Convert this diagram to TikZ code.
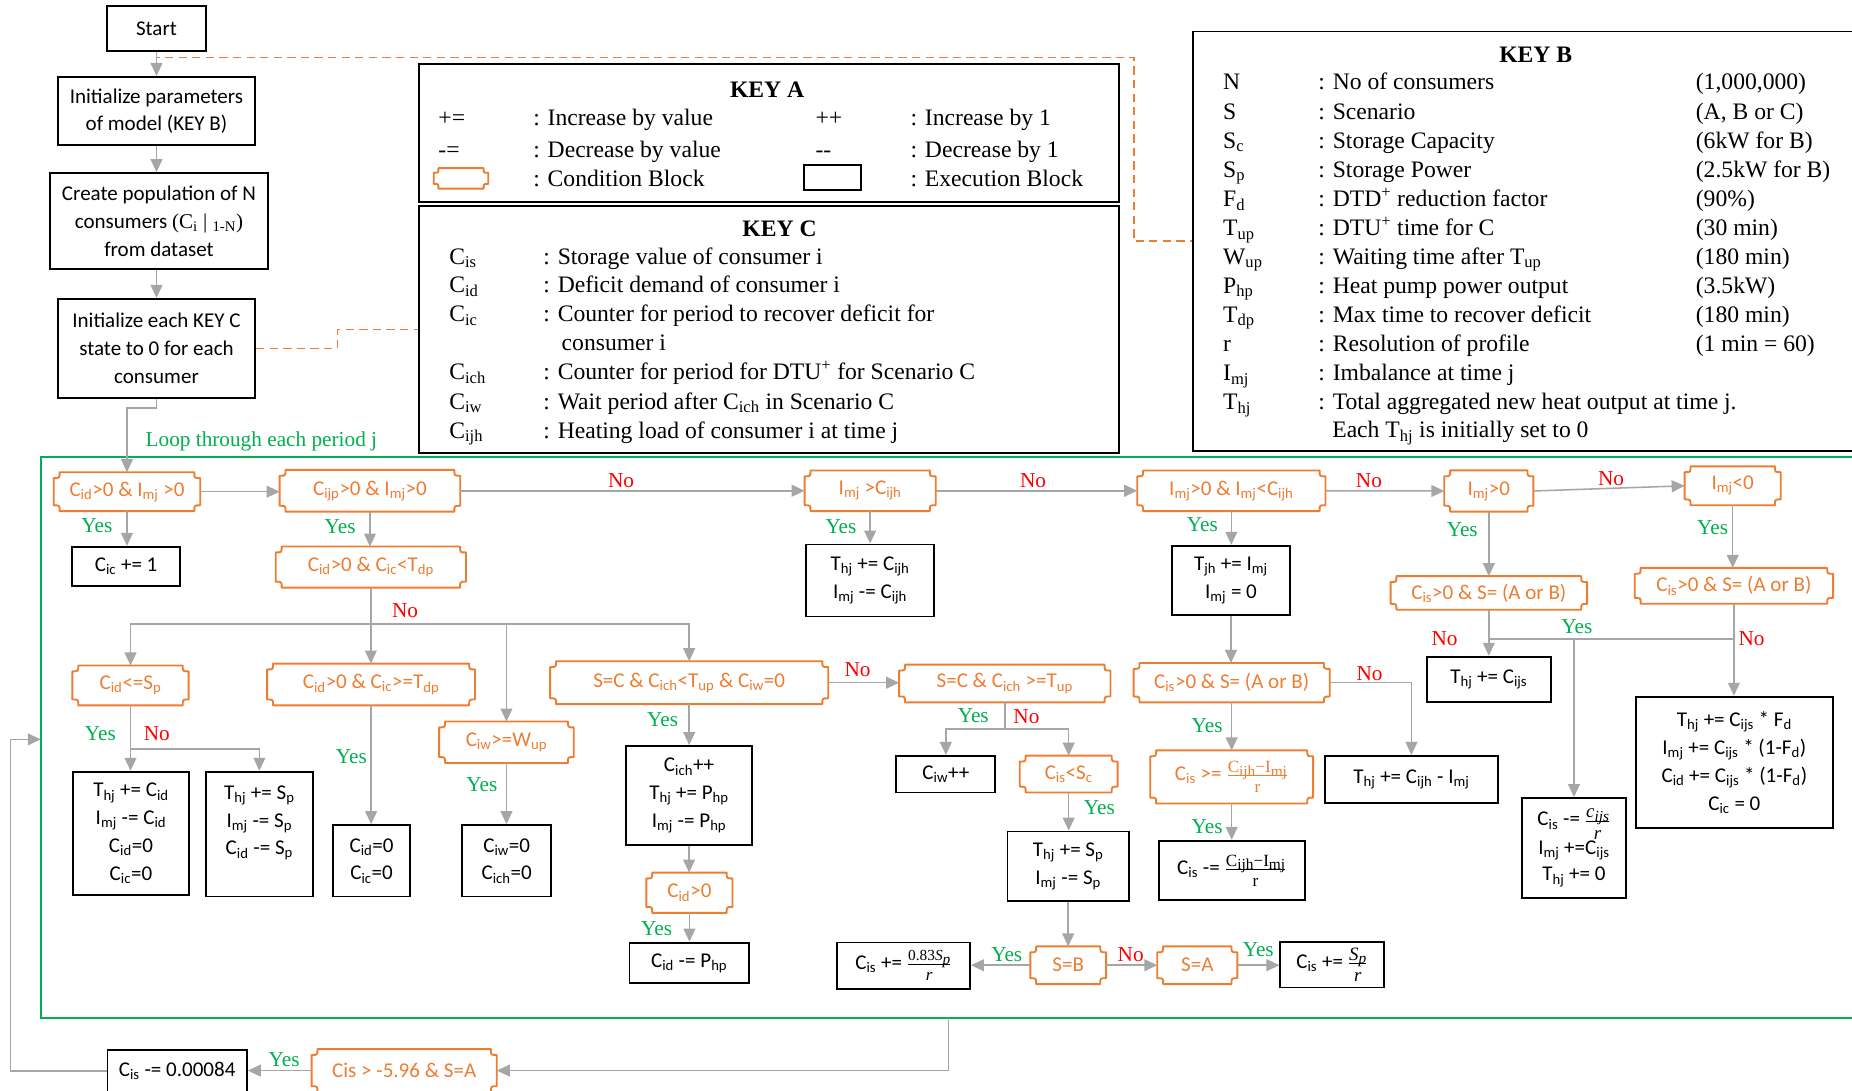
\documentclass[tikz,border=0pt]{standalone}
\usepackage{fontspec}
\setmainfont{Liberation Serif}
\newfontfamily\calib{Carlito}
\usetikzlibrary{arrows.meta}
\definecolor{orng}{RGB}{237,125,49}
\definecolor{gry}{RGB}{166,166,166}
\definecolor{grn}{RGB}{0,176,80}
\definecolor{rd}{RGB}{255,0,0}
\newcommand\sbs[1]{\textsubscript{#1}}
\newcommand\lsb[1]{\raisebox{-3pt}[0pt][1pt]{\fontsize{13}{14}\selectfont #1}}
\newcommand\isb[1]{\raisebox{-3pt}[0pt][1pt]{\fontsize{13}{14}\selectfont\itshape #1}}
\newcommand\rfrac[3][14.5]{$\frac{\mbox{\rmfamily\fontsize{#1}{#1}\selectfont #2}}{\mbox{\rmfamily\fontsize{#1}{#1}\selectfont\rule{0pt}{0.95em}#3}}$}
\newcommand\plq[2]{\draw[condline] ([xshift=#2]#1.north west) -- ([xshift=-#2]#1.north east) .. controls ([xshift=-#2,yshift=-#2]#1.north east) .. ([yshift=-#2]#1.north east) -- ([yshift=#2]#1.south east) .. controls ([xshift=-#2,yshift=#2]#1.south east) .. ([xshift=-#2]#1.south east) -- ([xshift=#2]#1.south west) .. controls ([xshift=#2,yshift=#2]#1.south west) .. ([yshift=#2]#1.south west) -- ([yshift=-#2]#1.north west) .. controls ([xshift=#2,yshift=-#2]#1.north west) .. ([xshift=#2]#1.north west) -- cycle;}
\tikzset{
 nd/.style={inner sep=0pt, align=center, font=\calib\fontsize{17.8}{23.5}\selectfont},
 cond/.style={nd, text=orng},
 condline/.style={draw=orng, line width=1.6pt, line join=round},
 exec/.style={nd, draw=black, line width=1.6pt},
 sz/.style 2 args={minimum width=#1pt, minimum height=#2pt},
 arr/.style={draw=gry, line width=1.3pt, -{Triangle[length=11pt,width=10pt]}},
 ln/.style={draw=gry, line width=1.3pt},
 yes/.style={text=grn, inner sep=0pt, font=\fontsize{18}{20}\selectfont},
 no/.style={text=rd, inner sep=0pt, font=\fontsize{18}{20}\selectfont},
 keybox/.style={draw=black, line width=1.5pt, inner sep=0pt},
 kt/.style={inner sep=0pt, anchor=west, text height=14pt, text depth=3pt, font=\fontsize{20}{24}\selectfont},
 kh/.style={inner sep=0pt, font=\bfseries\fontsize{20}{24}\selectfont},
 dsh/.style={draw=orng, line width=1.3pt, dash pattern=on 7pt off 4.5pt},
}
\begin{document}
\begin{tikzpicture}[x=1pt,y=-1pt]
\fill[white] (0,0) rectangle (1568,923);
\useasboundingbox (0,0) rectangle (1568,923);

% ---------- keys ----------
\node[keybox, minimum width=592.5pt, minimum height=116.4pt, anchor=north west] (keya) at (354.2,53.6) {};
\node[keybox, minimum width=592.5pt, minimum height=209.1pt, anchor=north west] (keyc) at (354.2,173.6) {};
\node[keybox, minimum width=570pt, minimum height=355pt, anchor=north west] (keyb) at (1009,26) {};

\node[kh] (kat) at (649.5,75.6) {KEY A};
\node[kt] (ka1) at (371,101) {+=};
\node[kt] (ka2) at (451.3,101) {: Increase by value};
\node[kt] (ka3) at (690.3,101) {++};
\node[kt] (ka4) at (770.7,101) {: Increase by 1};
\node[kt] (ka5) at (371,127.8) {-=};
\node[kt] (ka6) at (451.3,127.8) {: Decrease by value};
\node[kt] (ka7) at (690.3,127.8) {-{}-};
\node[kt] (ka8) at (770.7,127.8) {: Decrease by 1};
\node[cond, sz={45.8}{17}] (legc) at (390.3,151) {};
\node[exec, sz={48.2}{21.2}] (lege) at (704.7,150.3) {};
\node[kt] (ka9) at (451.3,152.4) {: Condition Block};
\node[kt] (ka10) at (770.7,152.4) {: Execution Block};

\node[kh] (kct) at (660,193.3) {KEY C};
\foreach \yy/\sy/\de [count=\k] in {218.2/{C\sbs{is}}/{: Storage value of consumer i},
 242.1/{C\sbs{id}}/{: Deficit demand of consumer i},
 266.7/{C\sbs{ic}}/{: Counter for period to recover deficit for},
 316.1/{C\sbs{ich}}/{: Counter for period for DTU\textsuperscript{+} for Scenario C},
 340.9/{C\sbs{iw}}/{: Wait period after C\sbs{ich} in Scenario C},
 365.5/{C\sbs{ijh}}/{: Heating load of consumer i at time j}}
{
 \node[kt] (kcs\k) at (380.2,\yy) {\sy};
 \node[kt] (kcd\k) at (459.8,\yy) {\de};
}
\node[kt] (kcx) at (475.4,291) {consumer i};

\node[kh] (kbt) at (1300.2,46) {KEY B};
\foreach \yy/\sy/\de/\va [count=\k] in {70.5/N/{: No of consumers}/{(1,000,000)},
 95.4/S/{: Scenario}/{(A, B or C)},
 120/{S\sbs{c}}/{: Storage Capacity}/{(6kW for B)},
 144.5/{S\sbs{p}}/{: Storage Power}/{(2.5kW for B)},
 169.3/{F\sbs{d}}/{: DTD\textsuperscript{+} reduction factor}/{(90\%)},
 193.9/{T\sbs{up}}/{: DTU\textsuperscript{+} time for C}/{(30 min)},
 218.2/{W\sbs{up}}/{: Waiting time after T\sbs{up}}/{(180 min)},
 242.7/{P\sbs{hp}}/{: Heat pump power output}/{(3.5kW)},
 267.3/{T\sbs{dp}}/{: Max time to recover deficit}/{(180 min)},
 292.1/r/{: Resolution of profile}/{(1 min = 60)}}
{
 \node[kt] (kbs\k) at (1035.4,\yy) {\sy};
 \node[kt] (kbd\k) at (1116,\yy) {\de};
 \node[kt] (kbv\k) at (1435.6,\yy) {\va};
}
\node[kt] (kbs11) at (1035.4,316.7) {I\sbs{mj}};
\node[kt] (kbd11) at (1116,316.7) {: Imbalance at time j};
\node[kt] (kbs12) at (1035.4,341.5) {T\sbs{hj}};
\node[kt] (kbd12) at (1116,341.5) {: Total aggregated new heat output at time j.};
\node[kt] (kbd13) at (1127.8,364.9) {Each T\sbs{hj} is initially set to 0};

% ---------- top-left ----------
\node[exec, sz={83.8}{38}] (start) at (132.5,24.2) {Start};
\node[exec, sz={167}{57.8}, font=\calib\fontsize{17.8}{22.6}\selectfont] (init) at (132.5,94) {Initialize parameters\\of model (KEY B)};
\node[exec, sz={184.7}{81.3}] (pop) at (134.6,187.2) {Create population of N\\consumers {\rmfamily(C\sbs{i} | \sbs{1-N})}\\from dataset};
\node[exec, sz={167}{84}] (initc) at (132.5,295) {Initialize each KEY C\\state to 0 for each\\consumer};

\draw[dsh] (init.north) |- (960,48.5) |- (keyb.west);
\draw[dsh] (initc.east) -- ++(69,0) |- (keyc.west);
\draw[arr] (start.south) -- (init.north);
\draw[arr] (init.south) -- (init.south |- pop.north);
\draw[arr] (initc.north |- pop.south) -- (initc.north);

% ---------- green loop box ----------
\draw[grn, line width=1.6pt] (34.5,387) rectangle (1580,862.2);
\node[text=grn, inner sep=0pt, font=\fontsize{18}{20}\selectfont] (loop) at (221.3,374) {Loop through each period j};

% ---------- condition nodes ----------
\node[cond, sz={123.6}{32.6}] (c1) at (107.5,416.3) {C\sbs{id}>0 \& I\sbs{mj} >0};
\node[cond, sz={152.5}{35}] (c2) at (313.2,415.5) {C\sbs{ijp}>0 \& I\sbs{mj}>0};
\node[cond, sz={110.6}{34}] (c3) at (736.7,415.5) {I\sbs{mj} >C\sbs{ijh}};
\node[cond, sz={159}{34}] (c4) at (1042.5,415.5) {I\sbs{mj}>0 \& I\sbs{mj}<C\sbs{ijh}};
\node[cond, sz={75}{34.5}] (c5) at (1260.5,415.7) {I\sbs{mj}>0};
\node[cond, sz={81}{32.6}] (c6) at (1467,411.3) {I\sbs{mj}<0};
\node[cond, sz={160.6}{34.4}] (c7) at (314,480.1) {C\sbs{id}>0 \& C\sbs{ic}<T\sbs{dp}};
\node[cond, sz={166}{28}] (c8) at (1260.5,502) {C\sbs{is}>0 \& S= (A or B)};
\node[cond, sz={167.5}{30}] (c9) at (1468,496) {C\sbs{is}>0 \& S= (A or B)};
\node[cond, sz={98}{33.4}] (c10) at (110.5,580.3) {C\sbs{id}<=S\sbs{p}};
\node[cond, sz={175.6}{35}] (c11) at (314.2,579.5) {C\sbs{id}>0 \& C\sbs{ic}>=T\sbs{dp}};
\node[cond, sz={113.6}{34.7}] (c12) at (428.8,628.4) {C\sbs{iw}>=W\sbs{up}};
\node[cond, sz={235}{36}] (c13) at (583.5,578) {S=C \& C\sbs{ich}<T\sbs{up} \& C\sbs{iw}=0};
\node[cond, sz={178.5}{31.5}] (c14) at (850.7,578.7) {S=C \& C\sbs{ich} >=T\sbs{up}};
\node[cond, sz={165.6}{33}] (c15) at (1042.8,578) {C\sbs{is}>0 \& S= (A or B)};
\node[cond, sz={72.6}{33.7}] (c16) at (583.7,755.8) {C\sbs{id}>0};
\node[cond, sz={82.4}{30.8}] (c17) at (904.8,655.4) {C\sbs{is}<S\sbs{c}};
\node[cond, sz={63.8}{31.5}] (c18) at (904.4,817.2) {S=B};
\node[cond, sz={67.4}{31.5}] (c19) at (1013.7,817.2) {S=A};
\node[cond, sz={137.5}{44.5}] (c20) at (1042.8,657.8) {C\sbs{is} >= \rfrac{C\lsb{ijh}−I\lsb{mj}}{r}};
\node[cond, sz={156.4}{36}] (c21) at (342.2,906.4) {Cis > -5.96 \& S=A};

\foreach \n in {c1,c2,c3,c4,c5,c6,c7,c8,c9,c10,c11,c12,c13,c14,c15,c16,c17,c18,c19,c20,c21} {\plq{\n}{5pt}}
\plq{legc}{4pt}

% ---------- execution nodes ----------
\node[exec, sz={91.2}{33.3}] (e1) at (106.8,479.6) {C\sbs{ic} += 1};
\node[exec, sz={108.4}{61}] (e2) at (736.6,491.5) {T\sbs{hj} += C\sbs{ijh}\\I\sbs{mj} -= C\sbs{ijh}};
\node[exec, sz={99.3}{58.7}] (e3) at (1042.2,491.4) {T\sbs{jh} += I\sbs{mj}\\I\sbs{mj} = 0};
\node[exec, sz={98.3}{104.4}] (e4) at (110.9,705.6) {T\sbs{hj} += C\sbs{id}\\I\sbs{mj} -= C\sbs{id}\\C\sbs{id}=0\\C\sbs{ic}=0};
\node[exec, sz={90.8}{105.6}] (e5) at (219.6,706.2) {T\sbs{hj} += S\sbs{p}\\I\sbs{mj} -= S\sbs{p}\\C\sbs{id} -= S\sbs{p}\\\mbox{}};
\node[exec, sz={65.6}{60.5}] (e6) at (314.6,728.8) {C\sbs{id}=0\\C\sbs{ic}=0};
\node[exec, sz={75.6}{60.5}] (e7) at (429,728.8) {C\sbs{iw}=0\\C\sbs{ich}=0};
\node[exec, sz={107.1}{83.9}] (e8) at (583.4,673.6) {C\sbs{ich}++\\T\sbs{hj} += P\sbs{hp}\\I\sbs{mj} -= P\sbs{hp}};
\node[exec, sz={101}{34.5}] (e9) at (583.5,815.3) {C\sbs{id} -= P\sbs{hp}};
\node[exec, sz={83.9}{31}] (e10) at (800.8,655.5) {C\sbs{iw}++};
\node[exec, sz={102.8}{59}] (e11) at (904.4,733.5) {T\sbs{hj} += S\sbs{p}\\I\sbs{mj} -= S\sbs{p}};
\node[exec, sz={112.5}{39.4}] (e12) at (765,817.7) {C\sbs{is} += \rfrac{\fontsize{13}{14}\selectfont 0.83\itshape S\isb{p}}{\itshape r}};
\node[exec, sz={87.5}{38.7}] (e13) at (1127.8,816.7) {C\sbs{is} += \rfrac[16]{\itshape S\isb{p}}{\itshape r}};
\node[exec, sz={146}{40}] (e14) at (1195,660) {T\sbs{hj} += C\sbs{ijh} - I\sbs{mj}};
\node[exec, sz={124}{50.2}] (e15) at (1043,736.9) {C\sbs{is} -= \rfrac{C\lsb{ijh}−I\lsb{mj}}{r}};
\node[exec, sz={105}{38}] (e16) at (1260.5,575) {T\sbs{hj} += C\sbs{ijs}};
\node[exec, sz={88.2}{84.4}, font=\calib\fontsize{17.8}{22.5}\selectfont] (e17) at (1332.6,717.8) {C\sbs{is} -= \rfrac[16]{\itshape c\isb{ijs}}{\itshape r}\\I\sbs{mj} +=C\sbs{ijs}\\T\sbs{hj} += 0};
\node[exec, sz={167.2}{111.5}] (e18) at (1468.4,645.6) {T\sbs{hj} += C\sbs{ijs} * F\sbs{d}\\I\sbs{mj} += C\sbs{ijs} * (1-F\sbs{d})\\C\sbs{id} += C\sbs{ijs} * (1-F\sbs{d})\\C\sbs{ic} = 0};
\node[exec, sz={118}{36}] (e19) at (150,906.7) {C\sbs{is} -= 0.00084};

% ---------- junctions ----------
\coordinate (jA) at (314,528.3);
\coordinate (jB) at (110.5,634);
\coordinate (jC) at (850.7,617.2);
\coordinate (jD) at (1260.5,541);
\coordinate (jE) at (1332.6,541);
\coordinate (jF) at (1468,541);
\coordinate (gb) at (803.2,862.2);
\coordinate (lc) at (8.9,626);
\coordinate (gl) at (34.5,626);

% ---------- connectors ----------
\draw[arr] (initc.south) -- ++(0,7.6) -| (c1.north);
\draw[arr] (c1.east) -- (c1.east -| c2.west);
\draw[arr] (c2.east) -- (c3.west);
\draw[arr] (c3.east) -- (c4.west);
\draw[arr] (c4.east) -- (c5.west);
\draw[arr] (c5.east) -- (c6.west);
\draw[arr] (c1.south) -- (c1.south |- e1.north);
\draw[arr] (c2.south) -- (c2.south |- c7.north);
\draw[arr] (c3.south) -- (c3.south |- e2.north);
\draw[arr] (c4.south) -- (c4.south |- e3.north);
\draw[arr] (c5.south) -- (c8.north);
\draw[arr] (c6.south) -- (c6.south |- c9.north);
\draw[arr] (c7.south) -- (c7.south |- c11.north);
\draw[arr] (jA) -| (c10.north);
\draw[arr] (jA) -| (c13.north);
\draw[arr] (jA -| c12.north) -- (c12.north);
\draw[arr] (c10.south) -- (c10.south |- e4.north);
\draw[arr] (jB) -| (e5.north);
\draw[arr] (c11.south) -- (c11.south |- e6.north);
\draw[arr] (c12.south) -- (c12.south |- e7.north);
\draw[arr] (c13.south) -- (c13.south |- e8.north);
\draw[arr] (c13.east) -- (c13.east -| c14.west);
\draw[arr] (e8.south) -- (e8.south |- c16.north);
\draw[arr] (c16.south) -- (c16.south |- e9.north);
\draw[ln] (c14.south) -- (jC);
\draw[arr] (jC) -| (e10.north);
\draw[arr] (jC) -| (c17.north);
\draw[arr] (c17.south) -- (c17.south |- e11.north);
\draw[arr] (e11.south) -- (e11.south |- c18.north);
\draw[arr] (c18.west) -- (c18.west -| e12.east);
\draw[arr] (c18.east) -- (c19.west);
\draw[arr] (c19.east) -- (c19.east -| e13.west);
\draw[arr] (e3.south) -- (e3.south |- c15.north);
\draw[arr] (c15.south) -- (c15.south |- c20.north);
\draw[arr] (c15.east) -| (e14.north);
\draw[arr] (c20.south) -- (c20.south |- e15.north);
\draw[arr] (c8.south) -- (e16.north);
\draw[ln] (jD) -- (jF);
\draw[arr] (jE) -- (e17.north);
\draw[arr] (c9.south) -- (c9.south |- e18.north);
\draw[arr] (gb) |- (c21.east);
\draw[arr] (c21.west) -- (c21.west -| e19.east);
\draw[arr] (e19.west) -| (lc) -- (gl);

% ---------- labels ----------
\node[yes] (y1) at (82,445) {Yes};
\node[yes] (y2) at (288,446) {Yes};
\node[yes] (y3) at (712,446) {Yes};
\node[yes] (y4) at (1018,444) {Yes};
\node[yes] (y5) at (1238,448) {Yes};
\node[yes] (y6) at (1450,447) {Yes};
\node[no] (n2) at (525.8,407) {No};
\node[no] (n3) at (874.6,407) {No};
\node[no] (n4) at (1159,407) {No};
\node[no] (n5) at (1364,405) {No};
\node[no] (n7) at (343,517) {No};
\node[yes] (y10) at (85,621) {Yes};
\node[no] (n10) at (132.8,621) {No};
\node[yes] (y11) at (297.5,641) {Yes};
\node[yes] (y12) at (408,664.6) {Yes};
\node[yes] (y13) at (561,609.6) {Yes};
\node[no] (n13) at (726,567) {No};
\node[yes] (y16) at (556,786) {Yes};
\node[yes] (y14) at (824,606) {Yes};
\node[no] (n14) at (869,606.8) {No};
\node[yes] (y17) at (930.8,683.8) {Yes};
\node[yes] (y18) at (852.4,808.6) {Yes};
\node[no] (n18) at (957.3,808.6) {No};
\node[yes] (y19) at (1065.3,804.3) {Yes};
\node[yes] (y15) at (1022,614) {Yes};
\node[no] (n15) at (1159.5,570) {No};
\node[yes] (y20) at (1022,700) {Yes};
\node[no] (n8) at (1223,541) {No};
\node[yes] (y8) at (1335,530.6) {Yes};
\node[no] (n9) at (1483,541) {No};
\node[yes] (y21) at (240.6,897.5) {Yes};
\end{tikzpicture}
\end{document}
